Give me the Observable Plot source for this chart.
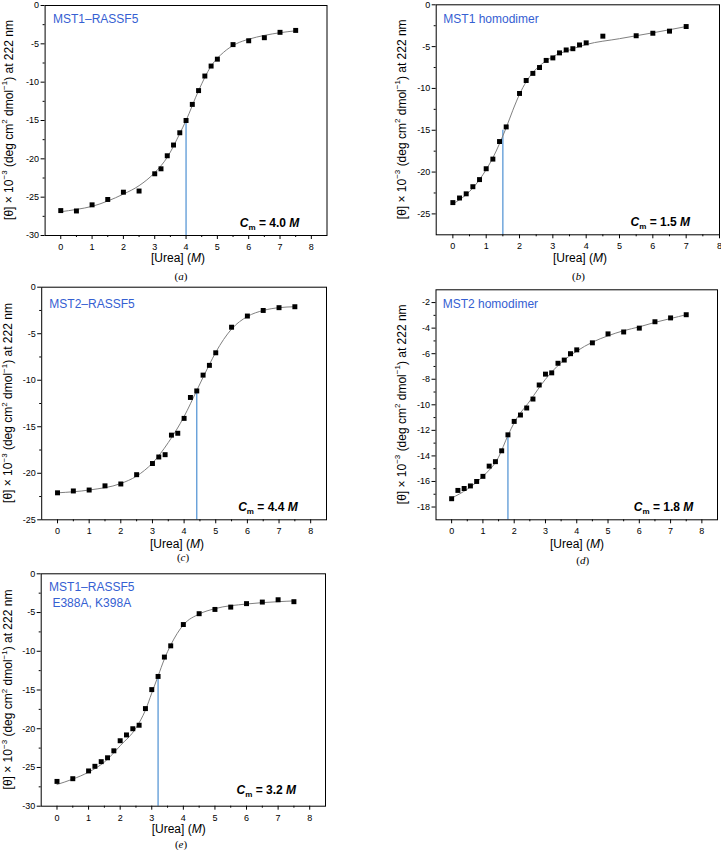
<!DOCTYPE html>
<html><head><meta charset="utf-8">
<script src="https://cdn.jsdelivr.net/npm/d3@7"></script>
<script src="https://cdn.jsdelivr.net/npm/@observablehq/plot@0.6"></script>
<style>
body{margin:0;background:#fff;}
#root{position:relative;width:721px;height:850px;overflow:hidden;background:#fff;}
.panel{position:absolute;}
</style></head><body><div id="root"></div>
<script>
// ---------- DATA ----------
const panelNames = [["MST1–RASSF5"], ["MST1 homodimer"], ["MST2–RASSF5"], ["MST2 homodimer"], ["MST1–RASSF5", "E388A, K398A"]];
const panelLetters = ["a", "b", "c", "d", "e"];
const cmValues = [4.0, 1.5, 4.4, 1.8, 3.2];
const cmCurveValues = [-15.0, -15.0, -11.05, -12.35, -13.2];

// (a) MST1–RASSF5
const ureaA  = [0, 0.5, 1, 1.5, 2, 2.5, 3, 3.2, 3.4, 3.6, 3.8, 4.0, 4.2, 4.4, 4.6, 4.8, 5.0, 5.5, 6.0, 6.5, 7.0, 7.5];
const thetaA = [-26.75, -26.8, -26.0, -25.3, -24.35, -24.2, -21.95, -21.3, -19.6, -18.2, -16.6, -15.0, -12.9, -11.1, -9.2, -7.9, -7.0, -5.1, -4.6, -4.2, -3.5, -3.25];
const fitUreaA  = [0, 0.5, 1, 1.5, 2, 2.5, 3, 3.4, 3.8, 4.0, 4.4, 4.8, 5.2, 5.6, 6.0, 6.5, 7.0, 7.5];
const fitThetaA = [-26.9, -26.6, -26.2, -25.5, -24.6, -23.5, -21.8, -19.8, -16.7, -15.0, -11.1, -7.9, -6.1, -5.0, -4.4, -3.9, -3.55, -3.3];

// (b) MST1 homodimer
const ureaB  = [0, 0.2, 0.4, 0.6, 0.8, 1.0, 1.2, 1.4, 1.6, 2.0, 2.2, 2.4, 2.6, 2.8, 3.0, 3.2, 3.4, 3.6, 3.8, 4.0, 4.5, 5.5, 6.0, 6.5, 7.0];
const thetaB = [-23.65, -23.1, -22.6, -21.75, -20.9, -19.6, -18.45, -16.35, -14.6, -10.6, -9.05, -8.2, -7.5, -6.65, -6.35, -5.75, -5.4, -5.25, -4.8, -4.55, -3.75, -3.7, -3.4, -3.15, -2.6];
const fitUreaB  = [0, 0.2, 0.4, 0.6, 0.8, 1.0, 1.2, 1.4, 1.6, 1.8, 2.0, 2.2, 2.4, 2.6, 2.8, 3.0, 3.5, 4.0, 5.0, 6.0, 7.0];
const fitThetaB = [-23.8, -23.3, -22.7, -21.9, -20.9, -19.7, -18.3, -16.6, -14.7, -12.6, -10.7, -9.2, -8.1, -7.3, -6.7, -6.2, -5.4, -4.75, -4.05, -3.35, -2.6];

// (c) MST2–RASSF5
const ureaC  = [0, 0.5, 1, 1.5, 2, 2.5, 3, 3.2, 3.4, 3.6, 3.8, 4.0, 4.2, 4.4, 4.6, 4.8, 5.0, 5.5, 6.0, 6.5, 7.0, 7.5];
const thetaC = [-22.1, -21.9, -21.8, -21.35, -21.15, -20.15, -18.95, -18.25, -18.0, -15.9, -15.7, -14.1, -11.85, -11.15, -9.45, -8.4, -7.05, -4.3, -3.1, -2.5, -2.2, -2.1];
const fitUreaC  = [0, 1, 2, 2.5, 3, 3.5, 4, 4.4, 4.8, 5.0, 5.5, 6.0, 6.5, 7.0, 7.5];
const fitThetaC = [-22.1, -21.8, -21.1, -20.3, -18.9, -16.7, -13.9, -11.1, -8.3, -7.0, -4.5, -3.15, -2.5, -2.2, -2.1];

// (d) MST2 homodimer
const ureaD  = [0, 0.2, 0.4, 0.6, 0.8, 1.0, 1.2, 1.4, 1.6, 1.8, 2.0, 2.2, 2.4, 2.6, 2.8, 3.0, 3.2, 3.4, 3.6, 3.8, 4.0, 4.5, 5.0, 5.5, 6.0, 6.5, 7.0, 7.5];
const thetaD = [-17.35, -16.7, -16.55, -16.35, -16.0, -15.6, -14.8, -14.45, -13.6, -12.35, -11.3, -10.8, -10.25, -9.55, -8.45, -7.6, -7.5, -6.75, -6.5, -6.0, -5.7, -5.15, -4.45, -4.3, -4.0, -3.5, -3.2, -2.95];
const fitUreaD  = [0, 0.5, 1, 1.5, 1.8, 2.0, 2.5, 3.0, 3.5, 4.0, 4.5, 5.0, 5.5, 6.0, 6.5, 7.0, 7.5];
const fitThetaD = [-17.3, -16.6, -15.6, -14.1, -12.4, -11.4, -9.7, -8.0, -6.7, -5.8, -5.1, -4.6, -4.2, -3.9, -3.55, -3.25, -2.95];

// (e) MST1–RASSF5 E388A, K398A
const ureaE  = [0, 0.5, 1.0, 1.2, 1.4, 1.6, 1.8, 2.0, 2.2, 2.4, 2.6, 2.8, 3.0, 3.2, 3.4, 3.6, 4.0, 4.5, 5.0, 5.5, 6.0, 6.5, 7.0, 7.5];
const thetaE = [-26.8, -26.45, -25.45, -24.85, -24.25, -23.75, -22.85, -21.55, -20.8, -20.0, -19.55, -17.4, -14.95, -13.25, -10.75, -9.3, -6.55, -5.15, -4.6, -4.3, -3.85, -3.65, -3.35, -3.6];
const fitUreaE  = [0, 0.5, 1.0, 1.5, 2.0, 2.5, 2.8, 3.0, 3.2, 3.4, 3.6, 4.0, 4.5, 5.0, 6.0, 7.0, 7.5];
const fitThetaE = [-27.2, -26.5, -25.6, -24.3, -22.2, -19.9, -17.6, -15.4, -13.2, -11.0, -9.2, -6.6, -5.2, -4.5, -3.9, -3.6, -3.5];

// axis ticks
const xTicks = [0, 1, 2, 3, 4, 5, 6, 7, 8];
const xMinorTicks = [0.5, 1.5, 2.5, 3.5, 4.5, 5.5, 6.5, 7.5];
const yTicks30 = [0, -5, -10, -15, -20, -25, -30];
const yMinor30 = [-2.5, -7.5, -12.5, -17.5, -22.5, -27.5];
const yTicks25 = [0, -5, -10, -15, -20, -25];
const yMinor25 = [-2.5, -7.5, -12.5, -17.5, -22.5];
const yTicksD = [-2, -4, -6, -8, -10, -12, -14, -16, -18];
const yMinorD = [-3, -5, -7, -9, -11, -13, -15, -17];

const seriesX = [ureaA, ureaB, ureaC, ureaD, ureaE];
const seriesY = [thetaA, thetaB, thetaC, thetaD, thetaE];
const fitX = [fitUreaA, fitUreaB, fitUreaC, fitUreaD, fitUreaE];
const fitY = [fitThetaA, fitThetaB, fitThetaC, fitThetaD, fitThetaE];

// ---------- LAYOUT (styling only) ----------
const layouts = [
  {left:0, top:0, w:360, h:285, ml:44.6, mr:33.5, mt:5, mb:50, xd:[-0.5,8.5], yd:[-30,0], yt:yTicks30, ym:yMinor30,
   yl:8.5, nameX:53, nameY:[22.6], nameAnchor:"start", cmX:299.3, cmY:227, xlX:178, xlY:261.5, capX:181, capY:279.5},
  {left:360, top:0, w:361, h:285, ml:75.7, mr:2, mt:4.3, mb:50.7, xd:[-0.5,8], yd:[-27.5,0], yt:yTicks25, ym:yMinor25,
   yl:41.7, nameX:83.3, nameY:[23.3], nameAnchor:"start", cmX:330, cmY:226, xlX:220, xlY:261.5, capX:218.5, capY:279.5},
  {left:0, top:280, w:360, h:285, ml:41.2, mr:34, mt:6.7, mb:45.7, xd:[-0.5,8.5], yd:[-25,0], yt:yTicks25, ym:yMinor25,
   yl:8.3, nameX:49.3, nameY:[28.3], nameAnchor:"start", cmX:297.7, cmY:231.3, xlX:177, xlY:267.5, capX:183, capY:281},
  {left:360, top:280, w:361, h:285, ml:75.5, mr:4, mt:9.3, mb:45.7, xd:[-0.5,8.5], yd:[-19,-1], yt:yTicksD, ym:yMinorD,
   yl:41.7, nameX:82.7, nameY:[28.3], nameAnchor:"start", cmX:333.3, cmY:231.3, xlX:217, xlY:267.5, capX:222.7, capY:284},
  {left:0, top:560, w:360, h:290, ml:40.7, mr:35, mt:13.3, mb:44.3, xd:[-0.5,8.5], yd:[-30,0], yt:yTicks30, ym:yMinor30,
   yl:8.3, nameX:91.8, nameY:[31, 47], nameAnchor:"middle", cmX:296, cmY:234.3, xlX:178.7, xlY:272.5, capX:181, capY:288}
];

const SANS = "'Liberation Sans', Arial, Helvetica, sans-serif";
const SERIF = "'Liberation Serif', 'Times New Roman', serif";
const BLUE_TEXT = "#3560d2";
const BLUE_LINE = "#5a98d6";

const root = document.getElementById("root");

layouts.forEach((L, i) => {
  const pts = seriesX[i].map((x, j) => ({x, y: seriesY[i][j]}));
  const fit = fitX[i].map((x, j) => ({x, y: fitY[i][j]}));
  const cmRule = [{x: cmValues[i], y1: L.yd[0], y2: cmCurveValues[i]}];

  const svg = Plot.plot({
    width: L.w, height: L.h,
    marginLeft: L.ml, marginRight: L.mr, marginTop: L.mt, marginBottom: L.mb,
    style: {background: "transparent", fontFamily: SANS, fontSize: "9px", color: "black", overflow: "visible"},
    x: {domain: L.xd, axis: null},
    y: {domain: L.yd, axis: null},
    marks: [
      Plot.axisX(xTicks, {anchor: "bottom", tickSize: 4, tickPadding: 4, tickFormat: d => String(d), label: null, fontSize: 9}),
      Plot.axisX(xMinorTicks, {anchor: "bottom", tickSize: 2, tickFormat: () => "", label: null}),
      Plot.axisY(L.yt, {anchor: "left", tickSize: 4, tickPadding: 2, tickFormat: d => String(d), label: null, fontSize: 9}),
      Plot.axisY(L.ym, {anchor: "left", tickSize: 2, tickFormat: () => "", label: null}),
      Plot.ruleX(cmRule, {x: "x", y1: "y1", y2: "y2", stroke: BLUE_LINE, strokeWidth: 1.3}),
      Plot.line(fit, {x: "x", y: "y", stroke: "#808080", strokeWidth: 1, curve: "monotone-x"}),
      Plot.dot(pts, {x: "x", y: "y", symbol: "square", r: 2.8, fill: "black", stroke: "none"}),
      Plot.frame({stroke: "black", strokeWidth: 1})
    ]
  });

  const wrap = document.createElement("div");
  wrap.className = "panel";
  wrap.style.left = L.left + "px";
  wrap.style.top = L.top + "px";
  wrap.appendChild(svg);
  root.appendChild(wrap);

  const s = d3.select(svg);
  const frameMidY = L.mt + (L.h - L.mt - L.mb) / 2;

  // y axis label
  const yl = s.append("text")
    .attr("transform", `translate(${L.yl},${frameMidY}) rotate(-90)`)
    .attr("text-anchor", "middle").attr("dominant-baseline", "central")
    .attr("font-family", SANS).attr("font-size", 12).attr("fill", "black");
  yl.append("tspan").text("[θ] × 10");
  yl.append("tspan").attr("font-size", 8).attr("dy", -4.5).text("−3");
  yl.append("tspan").attr("dy", 4.5).text(" (deg cm");
  yl.append("tspan").attr("font-size", 8).attr("dy", -4.5).text("2");
  yl.append("tspan").attr("dy", 4.5).text(" dmol");
  yl.append("tspan").attr("font-size", 8).attr("dy", -4.5).text("−1");
  yl.append("tspan").attr("dy", 4.5).text(") at 222 nm");

  // x axis label
  const xl = s.append("text").attr("x", L.xlX).attr("y", L.xlY)
    .attr("text-anchor", "middle").attr("font-family", SANS).attr("font-size", 12).attr("fill", "black");
  xl.append("tspan").text("[Urea] (");
  xl.append("tspan").attr("font-style", "italic").text("M");
  xl.append("tspan").text(")");

  // caption
  const cap = s.append("text").attr("x", L.capX).attr("y", L.capY)
    .attr("text-anchor", "middle").attr("font-family", SERIF).attr("font-size", 11).attr("fill", "black");
  cap.append("tspan").text("(");
  cap.append("tspan").attr("font-style", "italic").text(panelLetters[i]);
  cap.append("tspan").text(")");

  // panel name (blue)
  panelNames[i].forEach((line, k) => {
    s.append("text").attr("x", L.nameX).attr("y", L.nameY[k])
      .attr("text-anchor", L.nameAnchor).attr("font-family", SANS).attr("font-size", 12)
      .attr("fill", BLUE_TEXT).text(line);
  });

  // Cm annotation
  const cm = s.append("text").attr("x", L.cmX).attr("y", L.cmY)
    .attr("text-anchor", "end").attr("font-family", SANS).attr("font-size", 12)
    .attr("font-weight", "bold").attr("fill", "black");
  cm.append("tspan").attr("font-style", "italic").text("C");
  cm.append("tspan").attr("font-size", 8).attr("dy", 2.5).text("m");
  cm.append("tspan").attr("dy", -2.5).text(" = " + cmValues[i].toFixed(1) + " ");
  cm.append("tspan").attr("font-style", "italic").text("M");
});
</script>
</body></html>
